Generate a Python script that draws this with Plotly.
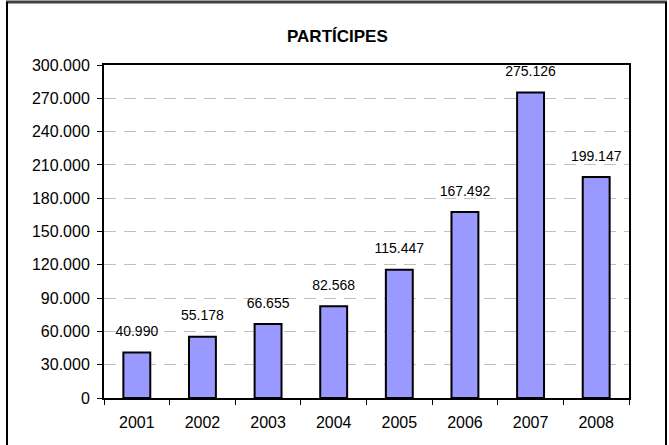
import plotly.graph_objects as go

years = ["2001", "2002", "2003", "2004", "2005", "2006", "2007", "2008"]
participes = [40990, 55178, 66655, 82568, 115447, 167492, 275126, 199147]
value_labels = ["40.990", "55.178", "66.655", "82.568", "115.447", "167.492", "275.126", "199.147"]
title_text = "PARTÍCIPES"

FONT = "Liberation Sans, Arial, sans-serif"

fig = go.Figure()
fig.add_trace(go.Bar(
    x=years, y=participes,
    marker=dict(color="#9999FF", line=dict(color="black", width=2)),
    hoverinfo="skip",
))
fig.add_trace(go.Scatter(
    x=years, y=participes, text=value_labels, mode="markers+text",
    textposition="top center", marker=dict(size=19, opacity=0),
    textfont=dict(family=FONT, size=14, color="black"), hoverinfo="skip",
))

L, R, T, B = 104, 629, 65, 398
W, H = R - L, B - T
def px(x):
    return (x - L) / W
def py(y):
    return (B - y) / H

annotations = [dict(
    x=px(337), y=py(37), xref="paper", yref="paper",
    text="<b>" + title_text + "</b>", showarrow=False,
    xanchor="center", yanchor="middle", font=dict(family=FONT, size=17, color="black"),
)]

shapes = [
    dict(type="line", xref="paper", yref="paper", x0=px(6), x1=px(667), y0=py(2), y1=py(2),
         line=dict(color="#404040", width=3)),
    dict(type="line", xref="paper", yref="paper", x0=px(7), x1=px(7), y0=py(2), y1=py(450),
         line=dict(color="black", width=2)),
    dict(type="line", xref="paper", yref="paper", x0=px(666), x1=px(666), y0=py(2), y1=py(450),
         line=dict(color="black", width=2)),
]

fig.update_layout(
    width=669, height=445,
    margin=dict(l=L, r=669 - R, t=T, b=445 - B, pad=0),
    paper_bgcolor="white", plot_bgcolor="white",
    showlegend=False,
    bargap=0.59,
    separators=",.",
    font=dict(family=FONT, size=16, color="black"),
    annotations=annotations,
    shapes=shapes,
)
fig.update_xaxes(
    type="category", range=[-0.5, 7.5], showline=True, linecolor="black", linewidth=2, mirror=True,
    ticks="outside", tickson="boundaries", ticklen=5, tickcolor="black", tickwidth=1,
    showgrid=False, tickfont=dict(family=FONT, size=16), ticklabelstandoff=9, tickangle=0,
)
fig.update_yaxes(
    range=[0, 300000], dtick=30000, tickformat=",d",
    showline=True, linecolor="black", linewidth=2, mirror=True,
    ticks="outside", ticklen=5, tickcolor="black", tickwidth=1,
    showgrid=True, gridcolor="#C0C0C0", gridwidth=1, griddash="12px,8px",
    zeroline=False, tickfont=dict(family=FONT, size=16), ticklabelstandoff=4,
)

fig.write_html(
    "out.html",
    config={"displayModeBar": False},
    post_script="document.body.style.margin='0';document.body.style.overflow='hidden';",
)
